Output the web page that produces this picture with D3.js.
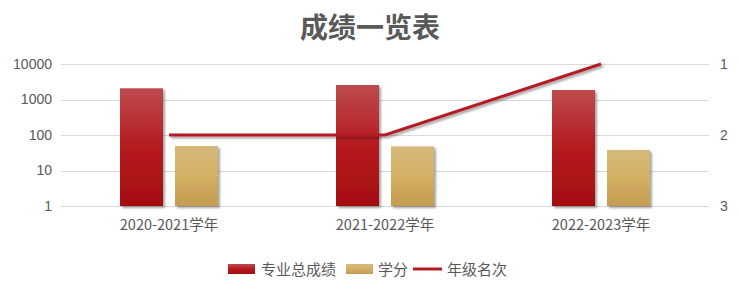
<!DOCTYPE html>
<html>
<head>
<meta charset="utf-8">
<script src="https://cdn.jsdelivr.net/npm/d3@7"></script>
<style>
  body { margin: 0; background: #fff; }
  text { font-family: "Noto Sans CJK SC", "Noto Sans", sans-serif; fill: #595959; }
</style>
</head>
<body>
<svg id="chart" width="739" height="293"></svg>
<script>
const years = ["2020-2021学年", "2021-2022学年", "2022-2023学年"];
const totalScore = [2070, 2560, 1850];
const credits = [49, 48, 38];
const rank = [2, 2, 1];
const leftTicks = [1, 10, 100, 1000, 10000];
const rightTicks = [1, 2, 3];

const svg = d3.select("#chart");
const plotLeft = 61, plotRight = 709, plotTop = 64, plotBottom = 206;

// gradients + shadow
const defs = svg.append("defs");
const redGrad = defs.append("linearGradient").attr("id", "redGrad").attr("x1", 0).attr("y1", 0).attr("x2", 0).attr("y2", 1);
redGrad.append("stop").attr("offset", "0%").attr("stop-color", "#bd4b4e");
redGrad.append("stop").attr("offset", "50%").attr("stop-color", "#b51a1e");
redGrad.append("stop").attr("offset", "100%").attr("stop-color", "#a50e10");
const goldGrad = defs.append("linearGradient").attr("id", "goldGrad").attr("x1", 0).attr("y1", 0).attr("x2", 0).attr("y2", 1);
goldGrad.append("stop").attr("offset", "0%").attr("stop-color", "#d6b97c");
goldGrad.append("stop").attr("offset", "50%").attr("stop-color", "#d4b064");
goldGrad.append("stop").attr("offset", "100%").attr("stop-color", "#c29b50");
const shadow = defs.append("filter").attr("id", "shadow").attr("x", "-20%").attr("y", "-20%").attr("width", "150%").attr("height", "150%");
shadow.append("feDropShadow").attr("dx", 2).attr("dy", 2).attr("stdDeviation", 1.2).attr("flood-color", "#000").attr("flood-opacity", 0.35);

const x = d3.scaleBand().domain(years).range([plotLeft, plotRight]);
const y = d3.scaleLog().domain([1, 10000]).range([plotBottom, plotTop]);
const yR = d3.scaleLinear().domain([1, 3]).range([plotTop, plotBottom]);

// title
svg.append("text").attr("x", 370).attr("y", 38).attr("text-anchor", "middle")
  .style("font-size", "28px").style("font-weight", "bold").text("成绩一览表");

// grid
svg.append("g").selectAll("line").data(leftTicks).join("line")
  .attr("x1", plotLeft).attr("x2", plotRight)
  .attr("y1", d => Math.round(y(d)) + 0.5).attr("y2", d => Math.round(y(d)) + 0.5)
  .attr("stroke", "#d9d9d9");

// left axis
const yAxis = svg.append("g").attr("transform", `translate(${plotLeft},0)`)
  .call(d3.axisLeft(y).tickValues(leftTicks).tickFormat(d3.format("d")).tickSize(0).tickPadding(9));
yAxis.select(".domain").remove();
yAxis.selectAll("text").style("font-size", "14px").style("font-family", "Liberation Sans, Arial, sans-serif").attr("fill", "#595959");

// right axis
const yAxisR = svg.append("g").attr("transform", `translate(${plotRight},0)`)
  .call(d3.axisRight(yR).tickValues(rightTicks).tickFormat(d3.format("d")).tickSize(0).tickPadding(11));
yAxisR.select(".domain").remove();
yAxisR.selectAll("text").style("font-size", "14px").style("font-family", "Liberation Sans, Arial, sans-serif").attr("fill", "#595959");

// x axis
const xAxis = svg.append("g").attr("transform", `translate(0,${plotBottom})`)
  .call(d3.axisBottom(x).tickSize(0).tickPadding(14));
xAxis.select(".domain").remove();
xAxis.selectAll("text").style("font-size", "14.5px").attr("fill", "#595959");

// bars
const barW = 43, gap = 12;
svg.append("g").selectAll("rect").data(years).join("rect")
  .attr("x", (d, i) => x(d) + x.bandwidth() / 2 - gap / 2 - barW)
  .attr("y", (d, i) => y(totalScore[i]))
  .attr("width", barW)
  .attr("height", (d, i) => y(1) - y(totalScore[i]))
  .attr("fill", "url(#redGrad)")
  .attr("filter", "url(#shadow)");
svg.append("g").selectAll("rect").data(years).join("rect")
  .attr("x", (d, i) => x(d) + x.bandwidth() / 2 + gap / 2)
  .attr("y", (d, i) => y(credits[i]))
  .attr("width", barW)
  .attr("height", (d, i) => y(1) - y(credits[i]))
  .attr("fill", "url(#goldGrad)")
  .attr("filter", "url(#shadow)");

// rank line
const line = d3.line()
  .x((d, i) => x(years[i]) + x.bandwidth() / 2)
  .y(d => yR(d));
svg.append("path").datum(rank)
  .attr("d", line)
  .attr("fill", "none")
  .attr("stroke", "#b31c22")
  .attr("stroke-width", 3)
  .attr("filter", "url(#shadow)");

// legend
const legend = svg.append("g").attr("transform", "translate(0,269)");
legend.append("rect").attr("x", 228).attr("y", -5).attr("width", 27).attr("height", 10).attr("fill", "url(#redGrad)");
legend.append("text").attr("x", 261).attr("y", 5.5).style("font-size", "15px").text("专业总成绩");
legend.append("rect").attr("x", 346).attr("y", -5).attr("width", 27).attr("height", 10).attr("fill", "url(#goldGrad)");
legend.append("text").attr("x", 378).attr("y", 5.5).style("font-size", "15px").text("学分");
legend.append("line").attr("x1", 413).attr("x2", 442).attr("y1", 0).attr("y2", 0)
  .attr("stroke", "#b31c22").attr("stroke-width", 3);
legend.append("text").attr("x", 447).attr("y", 5.5).style("font-size", "15px").text("年级名次");
</script>
</body>
</html>
